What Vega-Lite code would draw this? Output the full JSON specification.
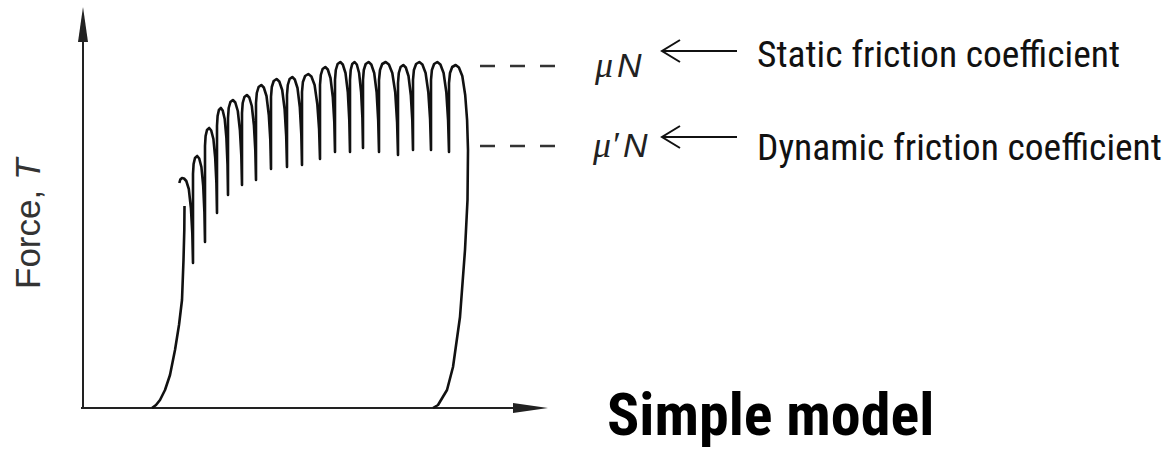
{
  "$schema": "https://vega.github.io/schema/vega-lite/v6.json",
  "width": 1172,
  "height": 450,
  "autosize": {"type": "none"},
  "padding": 0,
  "background": "white",
  "config": {"view": {"stroke": null}},
  "datasets": {
    "curve": [
      {"s":"rise","t":69,"F":0},{"s":"rise","t":73,"F":3},{"s":"rise","t":77,"F":8},{"s":"rise","t":82,"F":18},{"s":"rise","t":87,"F":33},{"s":"rise","t":92,"F":58},{"s":"rise","t":96,"F":83},{"s":"rise","t":99,"F":108},{"s":"rise","t":100.5,"F":148},{"s":"rise","t":101.3,"F":178},{"s":"rise","t":101.5,"F":202},
      {"s":"teeth","t":96.3,"F":225},{"s":"teeth","t":97.3,"F":228.5},{"s":"teeth","t":99,"F":230},{"s":"teeth","t":101,"F":229.5},{"s":"teeth","t":103.3,"F":227},{"s":"teeth","t":105.8,"F":219},{"s":"teeth","t":107.9,"F":200},{"s":"teeth","t":109.3,"F":175},{"s":"teeth","t":110,"F":145},
      {"s":"teeth","t":110,"F":234},{"s":"teeth","t":110.6,"F":244},{"s":"teeth","t":112,"F":250},{"s":"teeth","t":114.2,"F":252},{"s":"teeth","t":116.2,"F":249.5},{"s":"teeth","t":118.4,"F":241},{"s":"teeth","t":120.2,"F":222},{"s":"teeth","t":121.4,"F":196},{"s":"teeth","t":122,"F":166},
      {"s":"teeth","t":122,"F":262},{"s":"teeth","t":122.6,"F":272},{"s":"teeth","t":124,"F":278},{"s":"teeth","t":126.2,"F":280},{"s":"teeth","t":128.2,"F":277.5},{"s":"teeth","t":130.4,"F":269},{"s":"teeth","t":132.2,"F":250},{"s":"teeth","t":133.4,"F":225},{"s":"teeth","t":134,"F":195},
      {"s":"teeth","t":134,"F":282},{"s":"teeth","t":134.6,"F":292},{"s":"teeth","t":135.9,"F":298},{"s":"teeth","t":137.9,"F":300},{"s":"teeth","t":139.7,"F":297.5},{"s":"teeth","t":141.7,"F":289},{"s":"teeth","t":143.4,"F":270},{"s":"teeth","t":144.5,"F":243.5},{"s":"teeth","t":145,"F":213},
      {"s":"teeth","t":145,"F":290},{"s":"teeth","t":145.7,"F":300},{"s":"teeth","t":147.4,"F":306},{"s":"teeth","t":149.9,"F":308},{"s":"teeth","t":152.3,"F":305.5},{"s":"teeth","t":154.8,"F":297},{"s":"teeth","t":156.9,"F":278},{"s":"teeth","t":158.3,"F":252.8},{"s":"teeth","t":159,"F":223},
      {"s":"teeth","t":159,"F":295},{"s":"teeth","t":159.7,"F":305},{"s":"teeth","t":161.4,"F":311},{"s":"teeth","t":163.9,"F":313},{"s":"teeth","t":166.3,"F":310.5},{"s":"teeth","t":168.8,"F":302},{"s":"teeth","t":170.9,"F":283},{"s":"teeth","t":172.3,"F":257.8},{"s":"teeth","t":173,"F":228},
      {"s":"teeth","t":173,"F":305},{"s":"teeth","t":173.8,"F":315},{"s":"teeth","t":175.6,"F":321},{"s":"teeth","t":178.3,"F":323},{"s":"teeth","t":180.8,"F":320.5},{"s":"teeth","t":183.5,"F":312},{"s":"teeth","t":185.8,"F":293},{"s":"teeth","t":187.3,"F":268.4},{"s":"teeth","t":188,"F":239},
      {"s":"teeth","t":188,"F":311},{"s":"teeth","t":188.8,"F":321},{"s":"teeth","t":190.7,"F":327},{"s":"teeth","t":193.6,"F":329},{"s":"teeth","t":196.3,"F":326.5},{"s":"teeth","t":199.2,"F":318},{"s":"teeth","t":201.6,"F":299},{"s":"teeth","t":203.2,"F":271.8},{"s":"teeth","t":204,"F":241},
      {"s":"teeth","t":204,"F":313},{"s":"teeth","t":204.8,"F":323},{"s":"teeth","t":206.6,"F":329},{"s":"teeth","t":209.3,"F":331},{"s":"teeth","t":211.8,"F":328.5},{"s":"teeth","t":214.5,"F":320},{"s":"teeth","t":216.8,"F":301},{"s":"teeth","t":218.3,"F":273.8},{"s":"teeth","t":219,"F":243},
      {"s":"teeth","t":219,"F":316},{"s":"teeth","t":219.9,"F":326},{"s":"teeth","t":222.1,"F":332},{"s":"teeth","t":225.3,"F":334},{"s":"teeth","t":228.4,"F":331.5},{"s":"teeth","t":231.6,"F":323},{"s":"teeth","t":234.3,"F":304},{"s":"teeth","t":236.1,"F":278.8},{"s":"teeth","t":237,"F":249},
      {"s":"teeth","t":237,"F":323},{"s":"teeth","t":237.8,"F":333},{"s":"teeth","t":239.6,"F":339},{"s":"teeth","t":242.3,"F":341},{"s":"teeth","t":244.8,"F":338.5},{"s":"teeth","t":247.5,"F":330},{"s":"teeth","t":249.8,"F":311},{"s":"teeth","t":251.3,"F":285.8},{"s":"teeth","t":252,"F":256},
      {"s":"teeth","t":252,"F":328},{"s":"teeth","t":252.8,"F":338},{"s":"teeth","t":254.6,"F":344},{"s":"teeth","t":257.3,"F":346},{"s":"teeth","t":259.8,"F":343.5},{"s":"teeth","t":262.5,"F":335},{"s":"teeth","t":264.8,"F":316},{"s":"teeth","t":266.3,"F":287.5},{"s":"teeth","t":267,"F":256},
      {"s":"teeth","t":267,"F":328},{"s":"teeth","t":267.7,"F":338},{"s":"teeth","t":269.2,"F":344},{"s":"teeth","t":271.6,"F":346},{"s":"teeth","t":273.8,"F":343.5},{"s":"teeth","t":276.1,"F":335},{"s":"teeth","t":278.1,"F":316},{"s":"teeth","t":279.4,"F":290.1},{"s":"teeth","t":280,"F":260},
      {"s":"teeth","t":280,"F":328},{"s":"teeth","t":280.8,"F":338},{"s":"teeth","t":282.7,"F":344},{"s":"teeth","t":285.6,"F":346},{"s":"teeth","t":288.3,"F":343.5},{"s":"teeth","t":291.2,"F":335},{"s":"teeth","t":293.6,"F":316},{"s":"teeth","t":295.2,"F":287.5},{"s":"teeth","t":296,"F":256},
      {"s":"teeth","t":296,"F":328},{"s":"teeth","t":297,"F":338},{"s":"teeth","t":299.2,"F":344},{"s":"teeth","t":302.7,"F":346},{"s":"teeth","t":305.9,"F":343.5},{"s":"teeth","t":309.3,"F":335},{"s":"teeth","t":312.2,"F":316},{"s":"teeth","t":314.1,"F":285.6},{"s":"teeth","t":315,"F":253},
      {"s":"teeth","t":315,"F":325},{"s":"teeth","t":315.8,"F":335},{"s":"teeth","t":317.6,"F":341},{"s":"teeth","t":320.3,"F":343},{"s":"teeth","t":322.8,"F":340.5},{"s":"teeth","t":325.5,"F":332},{"s":"teeth","t":327.8,"F":313},{"s":"teeth","t":329.3,"F":287.8},{"s":"teeth","t":330,"F":258},
      {"s":"teeth","t":330,"F":328},{"s":"teeth","t":330.9,"F":338},{"s":"teeth","t":333.1,"F":344},{"s":"teeth","t":336.3,"F":346},{"s":"teeth","t":339.4,"F":343.5},{"s":"teeth","t":342.6,"F":335},{"s":"teeth","t":345.3,"F":316},{"s":"teeth","t":347.1,"F":288.8},{"s":"teeth","t":348,"F":258},
      {"s":"teeth","t":348,"F":328},{"s":"teeth","t":348.9,"F":338},{"s":"teeth","t":351.1,"F":344},{"s":"teeth","t":354.3,"F":346},{"s":"teeth","t":357.4,"F":343.5},{"s":"teeth","t":360.6,"F":335},{"s":"teeth","t":363.3,"F":316},{"s":"teeth","t":365.1,"F":287.5},{"s":"teeth","t":366,"F":256},
      {"s":"teeth","t":366,"F":325},{"s":"teeth","t":367,"F":335},{"s":"teeth","t":369.2,"F":341},{"s":"teeth","t":372.7,"F":343},{"s":"teeth","t":375.9,"F":340.5},{"s":"teeth","t":379.3,"F":332},{"s":"teeth","t":382.2,"F":313},{"s":"teeth","t":384.1,"F":287.8},{"s":"teeth","t":385,"F":258},
      {"s":"teeth","t":384.5,"F":208},{"s":"teeth","t":382,"F":158},{"s":"teeth","t":377,"F":91},{"s":"teeth","t":370,"F":41},{"s":"teeth","t":364,"F":18},{"s":"teeth","t":355,"F":3},{"s":"teeth","t":350,"F":0}
    ],
    "axes": [
      {"t":0,"F":0,"t2":0,"F2":366},
      {"t":-2,"F":0,"t2":430,"F2":0}
    ],
    "heads": [
      {"dir":"up","t":0,"F":383.5},
      {"dir":"right","t":447.5,"F":0}
    ],
    "levels": [
      {"level":"static","t":397,"t2":473,"F":342},
      {"level":"dynamic","t":397,"t2":473,"F":262}
    ],
    "arrows": [
      {"p":"a1b","t":597,"F":368},{"p":"a1b","t":579,"F":357},{"p":"a1b","t":597,"F":346},
      {"p":"a1s","t":579,"F":357},{"p":"a1s","t":654,"F":357},
      {"p":"a2b","t":597,"F":282},{"p":"a2b","t":579,"F":271},{"p":"a2b","t":597,"F":260},
      {"p":"a2s","t":579,"F":271},{"p":"a2s","t":654,"F":271}
    ]
  },
  "encoding": {
    "x": {"field": "t", "type": "quantitative", "scale": {"domain": [-83, 1089], "nice": false, "zero": false}, "axis": null},
    "y": {"field": "F", "type": "quantitative", "scale": {"domain": [-42, 408], "nice": false, "zero": false}, "axis": null}
  },
  "layer": [
    {
      "data": {"name": "axes"},
      "mark": {"type": "rule", "color": "#222222", "strokeWidth": 2},
      "encoding": {"x2": {"field": "t2"}, "y2": {"field": "F2"}}
    },
    {
      "data": {"name": "heads"},
      "mark": {"type": "point", "filled": true, "size": 1225, "color": "#222222", "opacity": 1, "strokeWidth": 0},
      "encoding": {
        "shape": {"field": "dir", "type": "nominal", "scale": {"domain": ["up", "right"], "range": ["M0,-1L0.286,1L-0.286,1Z", "M1,0L-1,-0.286L-1,0.286Z"]}, "legend": null}
      }
    },
    {
      "data": {"name": "curve"},
      "mark": {"type": "line", "color": "#111111", "strokeWidth": 2.6, "strokeJoin": "round", "interpolate": "linear"},
      "encoding": {"detail": {"field": "s", "type": "nominal"}, "order": {"value": null}}
    },
    {
      "data": {"name": "levels"},
      "mark": {"type": "rule", "color": "#333333", "strokeWidth": 2.6, "strokeDash": [15, 15]},
      "encoding": {"x2": {"field": "t2"}}
    },
    {
      "data": {"name": "arrows"},
      "mark": {"type": "line", "color": "#111111", "strokeWidth": 2, "interpolate": "linear"},
      "encoding": {"detail": {"field": "p", "type": "nominal"}, "order": {"value": null}}
    },
    {
      "data": {"values": [
        {"label": "Static friction coefficient", "t": 674, "F": 341},
        {"label": "Dynamic friction coefficient", "t": 674, "F": 248}
      ]},
      "mark": {"type": "text", "font": "Roboto Condensed, DejaVu Sans Condensed, Liberation Sans Narrow", "fontSize": 37.5, "align": "left", "baseline": "alphabetic", "color": "#111111"},
      "encoding": {"text": {"field": "label"}}
    },
    {
      "data": {"values": [{"label": "Simple model", "t": 524, "F": -27}]},
      "mark": {"type": "text", "font": "Roboto Condensed, DejaVu Sans Condensed, Liberation Sans Narrow", "fontWeight": "bold", "fontSize": 60, "align": "left", "baseline": "alphabetic", "color": "#000000"},
      "encoding": {"text": {"field": "label"}}
    },
    {
      "data": {"values": [
        {"label": "μ", "t": 512, "F": 331},
        {"label": "μ′", "t": 510, "F": 251}
      ]},
      "mark": {"type": "text", "font": "Liberation Serif", "fontStyle": "italic", "fontSize": 36, "align": "left", "baseline": "alphabetic", "color": "#222222"},
      "encoding": {"text": {"field": "label"}}
    },
    {
      "data": {"values": [
        {"label": "N", "t": 534, "F": 331},
        {"label": "N", "t": 540, "F": 251}
      ]},
      "mark": {"type": "text", "font": "Liberation Sans", "fontStyle": "italic", "fontSize": 34, "align": "left", "baseline": "alphabetic", "color": "#222222"},
      "encoding": {"text": {"field": "label"}}
    },
    {
      "data": {"values": [{"label": "Force,", "t": -43, "F": 119}]},
      "mark": {"type": "text", "font": "Liberation Sans", "fontSize": 35, "angle": 270, "align": "left", "baseline": "alphabetic", "color": "#333333"},
      "encoding": {"text": {"field": "label"}}
    },
    {
      "data": {"values": [{"label": "T", "t": -43, "F": 228}]},
      "mark": {"type": "text", "font": "Liberation Sans", "fontStyle": "italic", "fontSize": 35, "angle": 270, "align": "left", "baseline": "alphabetic", "color": "#333333"},
      "encoding": {"text": {"field": "label"}}
    }
  ]
}
